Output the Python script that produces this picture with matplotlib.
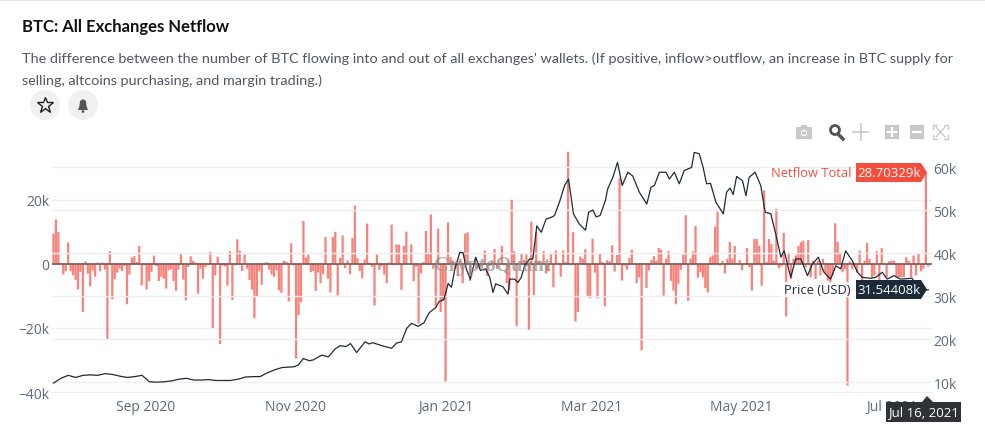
import matplotlib
matplotlib.use("Agg")
import matplotlib.pyplot as plt
from matplotlib.patches import Circle, Polygon, Rectangle
import pandas as pd

# values in thousands
netflow = [
    9.5, 13.9, 10, 0.3, -3.3, -2.3, 6.7, -2.3, -3.5, -5, -8, -2.5, -15, 0.8, -3, -7, -2, -4, 0.4, -2.3,
    0.4, -1.8, -23.6, 4, -11, -4.8, -2.7, -1.5, -2.2, -0.6, -12.6, -3.3, 2, 2.4, 0.6, 5.6, -6.7, -0.4, -8, -5.4,
    -2.5, 2.6, -0.7, -5.3, -4, -4.6, -7.7, -2, -1.7, -5.3, -8.4, -1.8, 3.3, -4.9, -11.4, -0.9, 2.4, 1, 0.4, -9.3,
    -1.5, -4.6, -1, -0.3, 3.8, -20, -3.6, 2.3, -25, -0.5, -0.8, -6.8, 4, -11.3, -0.4, 7.7, 4.2, -2.2, 2.9, -1.5,
    -5, -8, -17, -10, -2.3, -6.5, 0.2, 0.6, -1.8, -3.3, -4, -2, -8.2, -9, 1, 0.7, -11.7, 6.4, -0.5, -29.5,
    -16, -12, 13.4, 2, 2.9, -2.6, -2.2, -8.4, -2.7, -6, -3.2, 8.4, -4.6, -8.9, 8.4, 10, -9.8, 1.9, 8.9, -1.3,
    1.1, -3.2, 8.1, 18.2, 1.8, -2.2, -4.5, 1.4, 12.6, 0.4, -0.9, -13, 2.9, -1.8, -0.7, -3.3, -6, 0.4, 12.3, -0.4,
    6.1, 6, -8.1, 5.6, 10.1, 0.1, 6.1, -5.4, -0.9, -18.6, -3, 0.6, 10.3, 3.5, 15.4, -1.5, -13.4, 11, -15, -11.4,
    -36.7, 13, 2.2, 1.1, -1.5, -3.8, 1.6, -6, 9.5, 9.9, -5.3, 0.1, 1.6, -1.5, -0.9, -0.5, 4.2, -3.8, -0.6, 1.1,
    4.7, -1.5, -0.3, 5.6, 0.2, -6, -8.3, 20, 4, -19.4, 0.2, 3.3, 1.2, 3, -20.5, 13.2, -9.7, 9.9, 1, 0.5,
    4, -3, -2.3, 3, -7.3, 4.2, 0.4, -4, 4.2, 0.6, 35, -0.4, 9.9, -18, -15, 2.3, 1.6, 4.6, -10.4, -10.6,
    7.9, -2.7, -10.7, 3.4, 0.6, -13.2, 1.2, 0.8, 5.8, -2.4, 2.8, 26.8, -5.2, -0.5, -1.8, 1.9, 4.4, 0.1, -6, -4.2,
    -27, 0.3, -7.5, -2, 1.2, 2.4, 1, 5, 4.4, -9.9, 1.6, 4, -5.3, -8.3, -12.6, -6.2, -1.8, 2.9, 15.2, -11.5,
    1.7, 3.9, 11.8, -4.3, -2.6, -4.2, -7.5, -8.9, 2.1, 2.7, 11.6, 16.3, -0.5, 1, -3, 1.6, 6.8, 1.6, 5.6, 0.2,
    1.2, -2, 0.2, 5, -1, -8.3, 7.8, 7.8, 5.7, -6.8, 23, 0.6, 7.8, 6.2, 1, 17.2, -1.4, -0.8, 9.7, -16.4,
    3.6, -4.7, 1.6, 2.7, 5.6, 6.8, 7.3, -1, 7.5, -4.2, 1, -4.7, 1, -3.6, 1.6, -3, -5.2, -6.2, -3.6, 12.7,
    6.9, 3.6, -2.6, -1.6, -38, 0.8, -1.6, -0.5, -2.6, 4.2, -6.2, 1, 6.6, 1.6, -4.2, -3.6, 4, -5.2, 5, 0.2,
    -4.2, 0.8, 1, 1, -4.2, -4.2, -4.2, -4.2, 2.1, 1, -4.2, 2.6, -3.6, 3.1, -2.3, -1.5, 28.7, -0.8,
]

# days since the first point, and the price at that day
price_days = [
    0, 3, 6, 9, 12, 15, 18, 21, 24, 27, 30, 33, 36, 39, 42, 45, 48, 51, 54, 57, 60, 63, 66, 69, 72, 75,
    78, 81, 84, 87, 90,
    92.8, 97.8, 99.5, 101.5, 104, 105.6, 109, 111.7, 114.4, 116.4, 118.9, 120.7, 123.2, 126.6, 128.3,
    129.7, 131.3, 134.7, 137.4, 139.4, 141.4, 143.5, 145.5, 148.2, 150.5, 152.7, 155.4, 156.7, 158.6,
    160.4, 161.7, 163.1, 165.1, 166.4, 167.8, 169.4, 171.6, 173.5, 175.6, 177.3, 178.6, 179.7, 182.7, 184.7,
    185.4, 187.4, 188.7, 190.1, 191.4, 193.5, 194.8, 196.4, 198.2, 200.2, 202.3, 203.6, 205.6, 207.7,
    209.3, 211.3, 213.7, 216.2, 217.5, 219.2, 220.5, 222.1, 224.3, 225.2, 227.3, 229.2, 231.1, 233.4,
    235.4, 238.1, 241.1, 242.8, 244.2, 246.2, 248.9, 250.3, 252.3, 254.3, 256.3, 259.3, 260.4, 262.4,
    264, 265.4, 267, 269.2, 272.2, 273.5, 274.9, 276.2, 277.6,
    280, 281.4, 282.7, 285.1, 287.4, 289.2, 291.5, 293.5, 295.6, 296.9, 299.6, 301.6, 303.7, 306.4,
    308.4, 310.8, 313.1, 315.8, 317.9, 319.9, 321.9, 324.6, 326.7, 328.7, 332.1, 334.1, 336.8, 338.8,
    341.5, 344.2, 348.9, 352.3, 355.5,
]
price = [
    9.8, 10.9, 11.6, 11.1, 11.6, 11.7, 11.6, 12.0, 11.8, 11.4, 11.1, 11.3, 11.6, 10.1, 10.0, 10.1,
    10.3, 10.7, 10.9, 10.5, 10.5, 10.6, 10.4, 10.4, 10.4, 10.7, 11.2, 11.3, 11.3, 12.2, 12.9,
    13.4, 13.6, 14.0, 15.5, 15.0, 15.2, 16.3, 15.9, 17.7, 18.5, 18.3, 19.0, 16.9, 19.4, 18.9,
    19.2, 18.9, 18.3, 17.9, 19.1, 19.4, 22.5, 23.7, 23.0, 23.8, 26.2, 27.4, 28.8, 29.2,
    33.0, 32.1, 36.3, 40.2, 40.2, 36.3, 34.0, 39.1, 36.0, 36.4, 34.4, 30.9, 32.9, 32.2, 30.5,
    34.0, 34.0, 33.2, 34.4, 37.1, 38.7, 38.7, 46.4, 44.9, 48.0, 48.4, 48.8, 51.9, 55.8,
    57.3, 49.2, 46.8, 45.4, 49.6, 50.1, 48.5, 48.8, 52.3, 55.0, 57.7, 61.2, 55.8, 58.9,
    58.0, 54.2, 51.5, 55.4, 55.8, 58.9, 58.9, 57.3, 58.9, 56.2, 59.3, 60.0, 63.5, 63.2,
    60.0, 56.2, 56.3, 51.9, 49.2, 54.2, 55.2, 53.7, 57.9,
    56.9, 53.4, 57.7, 58.9, 55.8, 49.6, 49.2, 44.5, 39.1, 40.6, 34.4, 38.7, 38.7, 34.8,
    37.5, 39.1, 35.6, 34.0, 37.1, 36.4, 40.6, 38.3, 35.6, 34.4, 34.2, 34.4, 35.6, 34.0,
    34.8, 34.0, 34.2, 31.3, 31.54,
]

left_ticks = [-40, -20, 0, 20]
left_labels = ["−40k", "−20k", "0", "20k"]
right_ticks = [10, 20, 30, 40, 50, 60]
right_labels = ["10k", "20k", "30k", "40k", "50k", "60k"]
month_ticks = ["2020-09-01", "2020-11-01", "2021-01-01", "2021-03-01", "2021-05-01", "2021-07-01"]
month_labels = ["Sep 2020", "Nov 2020", "Jan 2021", "Mar 2021", "May 2021", "Jul 2021"]

start = pd.Timestamp("2020-07-25 12:00")
end = pd.Timestamp("2021-07-16")
flow_dates = pd.date_range(start, end, periods=len(netflow))
price_dates = start + pd.to_timedelta(price_days, unit="D")

W, H = 985, 427
TICK = "#5f6b7a"
GRID = "#eeeeee"
FONT = ["Open Sans", "DejaVu Sans"]
plt.rcParams["font.family"] = FONT

fig = plt.figure(figsize=(W / 100, H / 100), dpi=100)
ax = fig.add_axes([52 / W, 1 - 393.5 / H, 880 / W, 243.5 / H])
ax2 = ax.twinx()

ax.bar(flow_dates, netflow, width=0.92, color="#f44336", alpha=0.65, linewidth=0, zorder=2, snap=False)
ax.axhline(0, color="#7c6460", lw=1.3, zorder=3)
ax.set_ylim(-40.15, 35.9)
ax.set_xlim(start - pd.Timedelta(days=0.6), end + pd.Timedelta(days=1.5))
ax.set_yticks(left_ticks, left_labels)
ax.set_xticks([pd.Timestamp(d) for d in month_ticks], month_labels)
ax.grid(axis="y", color=GRID, lw=1)
ax.set_axisbelow(True)

ax2.plot(price_dates, price, color="#1f2b38", lw=0.9, zorder=4)
ax2.set_ylim(7.6, 64.3)
ax2.set_yticks(right_ticks, right_labels)
ax2.grid(axis="y", color=GRID, lw=1)
ax2.set_axisbelow(True)

for a in (ax, ax2):
    for s in a.spines.values():
        s.set_visible(False)
    a.tick_params(length=0, labelsize=10, labelcolor=TICK)
ax.tick_params(axis="x", pad=5)
ax.tick_params(axis="y", pad=2)
ax2.tick_params(axis="y", pad=1)

# overlay in pixel coordinates for the page text, hover labels and icons
ov = fig.add_axes([0, 0, 1, 1], zorder=10)
ov.set_xlim(0, W)
ov.set_ylim(H, 0)
ov.axis("off")

ov.plot([0, W], [1, 1], color="#e6e6e6", lw=1.5)
ov.text(22, 27, "BTC: All Exchanges Netflow", fontsize=12, color="#111111", va="center",
        family=["Lato", "DejaVu Sans"], fontweight="bold")
ov.text(22, 59, "The difference between the number of BTC flowing into and out of all exchanges' wallets. "
        "(If positive, inflow>outflow, an increase in BTC supply for", fontsize=10.4, color="#4e5661", va="center",
        family=["Lato", "DejaVu Sans"])
ov.text(22, 81, "selling, altcoins purchasing, and margin trading.)", fontsize=10.4, color="#4e5661", va="center",
        family=["Lato", "DejaVu Sans"])

# watermark
ov.text(492, 266, "CryptoQuant", fontsize=14.5, color="#8f8f8f", alpha=0.7, ha="center", va="center",
        family=["Liberation Serif"], fontweight="bold")

# star and bell buttons
ov.add_patch(Circle((45, 106), 15, color="#f1f1f1", lw=0))
ov.add_patch(Circle((83, 106), 15, color="#f1f1f1", lw=0))
ov.plot([45], [105.5], marker="*", ms=12, mfc="none", mec="#222222", mew=1)
ov.add_patch(Polygon([(78, 111), (79.5, 107), (80, 102), (83, 100), (86, 102), (86.5, 107), (88, 111)],
                     color="#555555", lw=0))
ov.add_patch(Circle((83, 112.5), 1.4, color="#555555", lw=0))

# plot toolbar
ICON = "#c9c9c9"
ov.add_patch(Rectangle((796, 128), 16, 12, color=ICON, lw=0))
ov.add_patch(Rectangle((801, 126), 6, 3, color=ICON, lw=0))
ov.add_patch(Circle((804, 134), 3.2, fc="white", ec="none"))
ov.add_patch(Circle((804, 134), 2, color=ICON, lw=0))
ov.add_patch(Circle((835, 131), 4.5, fc="none", ec="#555555", lw=2))
ov.plot([838, 843], [135, 140], color="#555555", lw=2.5)
ov.plot([853, 868], [133, 133], color=ICON, lw=1.2)
ov.plot([860.5, 860.5], [125, 141], color=ICON, lw=1.2)
ov.add_patch(Rectangle((885, 126), 14, 14, color=ICON, lw=0))
ov.plot([888, 896], [133, 133], color="white", lw=1.6)
ov.plot([892, 892], [129, 137], color="white", lw=1.6)
ov.add_patch(Rectangle((910, 126), 14, 14, color=ICON, lw=0))
ov.plot([913, 921], [133, 133], color="white", lw=1.6)
ov.plot([936, 945], [128, 138], color=ICON, lw=1)
ov.plot([936, 945], [138, 128], color=ICON, lw=1)
for cx, cy, dx, dy in [(933, 126, 1, 1), (948, 126, -1, 1), (933, 140, 1, -1), (948, 140, -1, -1)]:
    ov.plot([cx + 4 * dx, cx, cx], [cy, cy, cy + 4 * dy], color=ICON, lw=1)

# hover labels
RED = "#f44f3e"
DARK = "#1d2a37"
ov.add_patch(Polygon([(856, 164), (921, 164), (927, 173.5), (921, 183), (856, 183)], color=RED, lw=0))
ov.text(889, 173.5, "28.70329k", color="white", fontsize=9.5, ha="center", va="center")
ov.text(851, 173.5, "Netflow Total", color=RED, fontsize=9.3, ha="right", va="center")
ov.add_patch(Polygon([(856, 281), (921, 281), (927, 290.5), (921, 300), (856, 300)], color=DARK, lw=0))
ov.text(889, 290.5, "31.54408k", color="white", fontsize=9.5, ha="center", va="center")
ov.add_patch(Rectangle((781, 283), 72, 15, color="white", alpha=0.85, lw=0))
ov.text(851, 290.5, "Price (USD)", color=DARK, fontsize=9.3, ha="right", va="center")
ov.add_patch(Polygon([(886, 403), (922, 403), (927, 397), (933, 403), (961, 403), (961, 423), (886, 423)],
                     color="#2f3338", lw=0))
ov.text(923.5, 413, "Jul 16, 2021", color="white", fontsize=9.5, ha="center", va="center")

fig.savefig("out.png", dpi=100, facecolor="white")
